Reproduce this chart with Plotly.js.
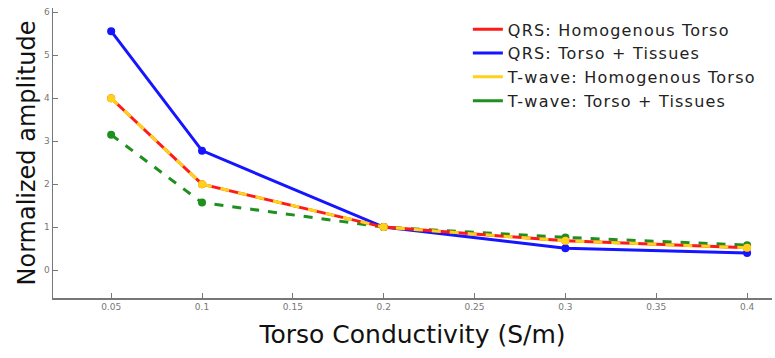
<!DOCTYPE html>
<html><head><meta charset="utf-8">
<script src="https://cdn.plot.ly/plotly-3.0.1.min.js"></script>
<style>html,body{margin:0;padding:0;background:#fff;}#c{width:775px;height:358px;}
.legendtext{letter-spacing:1.2px;}</style>
</head><body><div id="c"></div>
<script>
const conductivity = [0.05, 0.1, 0.2, 0.3, 0.4];
const qrsHomogenous = [4.0, 2.0, 1.0, 0.68, 0.52];
const qrsTissues = [5.56, 2.78, 1.0, 0.51, 0.40];
const twHomogenous = [4.0, 2.0, 1.0, 0.68, 0.52];
const twTissues = [3.15, 1.57, 1.0, 0.76, 0.58];
const names = ["QRS: Homogenous Torso", "QRS: Torso + Tissues", "T-wave: Homogenous Torso", "T-wave: Torso + Tissues"];
const xTicks = [0.05, 0.1, 0.15, 0.2, 0.25, 0.3, 0.35, 0.4];
const yTicks = [0, 1, 2, 3, 4, 5, 6];

const specs = [
  {y: qrsTissues, color: '#1515ff', dash: 'solid', name: names[1], order: 1},
  {y: twTissues, color: '#1f8f1f', dash: 'dash', name: names[3], order: 3},
  {y: qrsHomogenous, color: '#ff1a1a', dash: 'solid', name: names[0], order: 0},
  {y: twHomogenous, color: '#ffd21a', dash: 'dash', name: names[2], order: 2},
];
const traces = [];
specs.forEach(s => {
  traces.push({x: conductivity, y: s.y, mode: 'lines+markers', showlegend: false,
    line: {color: s.color, width: 3, dash: s.dash}, marker: {color: s.color, size: 8}});
});
[0,1,2,3].forEach(i => {
  const s = specs.find(q => q.order === i);
  traces.push({x: [null], y: [null], mode: 'lines', name: s.name,
    line: {color: s.color, width: 3}});
});

Plotly.newPlot('c', traces, {
  width: 775, height: 358,
  margin: {l: 53, r: 3, t: 8, b: 60},
  paper_bgcolor: '#fff', plot_bgcolor: '#fff',
  font: {family: 'DejaVu Sans, sans-serif', color: '#222'},
  xaxis: {range: [0.018, 0.4137], tickvals: xTicks, ticktext: xTicks.map(String),
    ticks: 'inside', ticklen: 5, tickcolor: '#777', showline: true, linecolor: '#777', linewidth: 1.5,
    showgrid: false, zeroline: false, tickfont: {size: 9, color: '#777'},
    title: {text: 'Torso Conductivity (S/m)', font: {size: 25, color: '#111'}, standoff: 14}},
  yaxis: {range: [-0.65, 6.1], tickvals: yTicks, ticks: 'inside', ticklen: 5, tickcolor: '#777',
    showline: true, linecolor: '#777', linewidth: 1.5, showgrid: false, zeroline: false,
    tickfont: {size: 9, color: '#777'},
    title: {text: 'Normalized amplitude', font: {size: 24, color: '#111'}, standoff: 1}},
  legend: {x: 0.577, y: 0.985, xanchor: 'left', yanchor: 'top', font: {size: 16, color: '#222'},
    bgcolor: 'rgba(255,255,255,0)', tracegroupgap: 0, itemwidth: 30},
  showlegend: true
}, {staticPlot: true});
</script></body></html>
